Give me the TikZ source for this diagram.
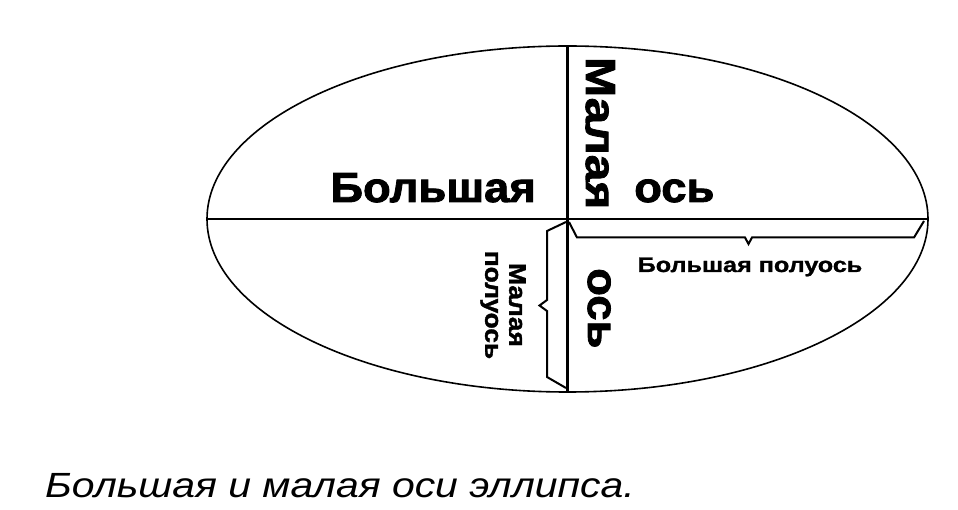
\documentclass[tikz,border=0pt]{standalone}
\usepackage{fontspec}
\setmainfont{Liberation Sans}
\newfontfamily\heavybig[UprightFont={* Bold},FakeBold=2,FakeStretch=1.08]{Liberation Sans}
\newfontfamily\heavywide[UprightFont={* Bold},FakeBold=2,FakeStretch=1.14]{Liberation Sans}
\newfontfamily\heavymid[UprightFont={* Bold},FakeBold=1.5,FakeStretch=1.1]{Liberation Sans}
\newfontfamily\heavysmall[UprightFont={* Bold},FakeBold=1.2,FakeStretch=1.2]{Liberation Sans}
\newfontfamily\capfont[UprightFont={* Italic},FakeStretch=1.17]{Liberation Sans}
\begin{document}
\begin{tikzpicture}[x=1pt,y=-1pt,
  axisline/.style={line width=2.4pt},
  oval/.style={line width=1.6pt},
  bracket/.style={line width=2pt, line join=miter},
  bigtxt/.style={inner sep=0pt, font=\heavybig\fontsize{42}{46}\selectfont},
  widetxt/.style={inner sep=0pt, font=\heavywide\fontsize{42}{46}\selectfont},
  midtxt/.style={inner sep=0pt, font=\heavymid\fontsize{24}{24}\selectfont, align=center},
  smalltxt/.style={inner sep=0pt, font=\heavysmall\fontsize{21}{24}\selectfont},
  captxt/.style={inner sep=0pt, font=\capfont\fontsize{35}{40}\selectfont}]
\useasboundingbox (0,0) rectangle (958,510);
\fill[white] (0,0) rectangle (958,510);
% ellipse and axes
\coordinate (O) at (567.5,219);
\draw[oval] (O) ellipse [x radius=360.5, y radius=173];
\coordinate (L) at (207,219);
\coordinate (R) at (928,219);
\coordinate (T) at (567.5,46);
\coordinate (B) at (567.5,392);
\draw[axisline] (L) -- (R);
\draw[axisline] (T) -- (B);
% major semi-axis bracket
\coordinate (ma1) at (569,222);
\coordinate (ma2) at (577,237.5);
\coordinate (ma3) at (745,237.5);
\coordinate (ma4) at (748.5,244);
\coordinate (ma5) at (752,237.5);
\coordinate (ma6) at (914,237.5);
\coordinate (ma7) at (924,221);
\draw[bracket] (ma1) -- (ma2) -- (ma3) -- (ma4) -- (ma5) -- (ma6) -- (ma7);
% minor semi-axis bracket
\coordinate (mi1) at (566,222);
\coordinate (mi2) at (547,231);
\coordinate (mi3) at (547,300);
\coordinate (mi4) at (539.5,305.5);
\coordinate (mi5) at (547,311);
\coordinate (mi6) at (547,377);
\coordinate (mi7) at (566,388);
\draw[bracket] (mi1) -- (mi2) -- (mi3) -- (mi4) -- (mi5) -- (mi6) -- (mi7);
% labels
\node[bigtxt, anchor=base east] (bolsh) at (536,202) {Большая};
\node[bigtxt, anchor=base west] (osH) at (634,202) {ось};
\node[widetxt, rotate=-90, anchor=base west] (malaya) at (586,57) {Малая};
\node[bigtxt, rotate=-90, anchor=base west] (osV) at (588,268) {ось};
\node[smalltxt, anchor=base] (bpol) at (750,272) {Большая полуось};
\node[midtxt, rotate=-90] (mpol) at (503,305) {Малая\\полуось};
\node[captxt, anchor=base west] (cap) at (45,497) {Большая и малая оси эллипса.};
\end{tikzpicture}
\end{document}
